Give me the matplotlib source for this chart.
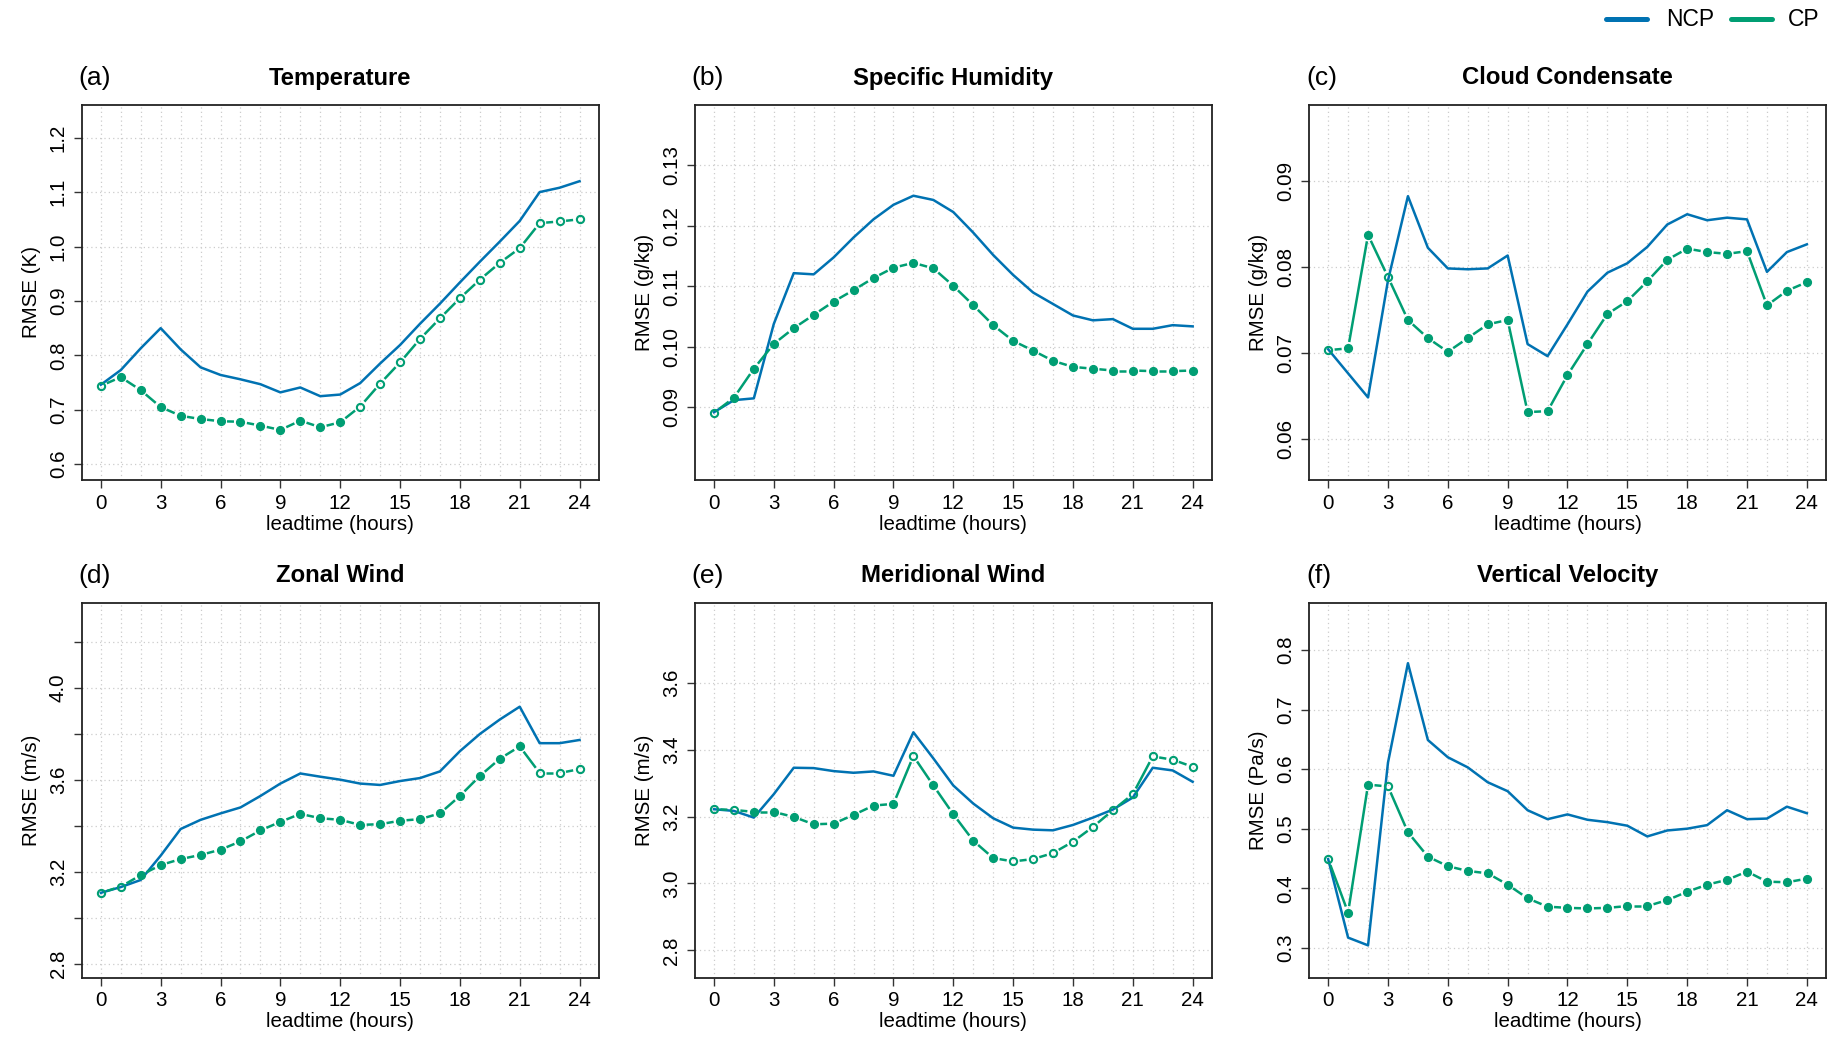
import numpy as np
import matplotlib
matplotlib.use('Agg')
import matplotlib.pyplot as plt
from matplotlib.lines import Line2D

plt.rcParams['font.family'] = ['Liberation Sans', 'DejaVu Sans']

BLUE = '#0072B2'
GREEN = '#009E73'

hours = np.arange(25)

# (a) Temperature
ncp_t = [0.746, 0.773, 0.813, 0.850, 0.811, 0.778, 0.764, 0.756, 0.747, 0.732, 0.741, 0.725, 0.728,
         0.749, 0.785, 0.819, 0.858, 0.895, 0.934, 0.972, 1.009, 1.047, 1.100, 1.108, 1.120]
cp_t = [0.744, 0.760, 0.736, 0.705, 0.689, 0.683, 0.679, 0.678, 0.671, 0.663, 0.680, 0.668, 0.677,
        0.706, 0.748, 0.787, 0.830, 0.868, 0.905, 0.939, 0.970, 0.997, 1.043, 1.046, 1.050]
open_t = [0, 13, 14, 15, 16, 17, 18, 19, 20, 21, 22, 23, 24]

# (b) Specific Humidity
ncp_q = [0.0892, 0.0912, 0.0915, 0.1038, 0.1122, 0.1120, 0.1148, 0.1181, 0.1211, 0.1235, 0.1250, 0.1243, 0.1223,
         0.1189, 0.1152, 0.1119, 0.1090, 0.1071, 0.1052, 0.1044, 0.1046, 0.1030, 0.1030, 0.1036, 0.1034]
cp_q = [0.0891, 0.0916, 0.0964, 0.1005, 0.1031, 0.1053, 0.1075, 0.1094, 0.1114, 0.1131, 0.1139, 0.1130, 0.1101,
        0.1069, 0.1036, 0.1010, 0.0994, 0.0977, 0.0967, 0.0964, 0.0961, 0.0961, 0.0960, 0.0960, 0.0961]
open_q = [0]

# (c) Cloud Condensate
ncp_c = [0.0704, 0.0676, 0.0648, 0.0784, 0.0882, 0.0822, 0.0798, 0.0797, 0.0798, 0.0813, 0.0710, 0.0696, 0.0733,
         0.0771, 0.0793, 0.0804, 0.0823, 0.0849, 0.0861, 0.0854, 0.0857, 0.0855, 0.0794, 0.0817, 0.0826]
cp_c = [0.0703, 0.0705, 0.0837, 0.0788, 0.0738, 0.0717, 0.0701, 0.0717, 0.0733, 0.0738, 0.0631, 0.0632, 0.0674,
        0.0710, 0.0745, 0.0760, 0.0783, 0.0808, 0.0821, 0.0817, 0.0815, 0.0818, 0.0755, 0.0772, 0.0782]
open_c = [0, 3]

# (d) Zonal Wind
ncp_u = [3.108, 3.133, 3.164, 3.270, 3.386, 3.426, 3.454, 3.480, 3.530, 3.584, 3.628, 3.614, 3.601,
         3.584, 3.578, 3.595, 3.608, 3.637, 3.725, 3.800, 3.863, 3.919, 3.760, 3.760, 3.774]
cp_u = [3.108, 3.135, 3.185, 3.229, 3.255, 3.273, 3.296, 3.332, 3.380, 3.417, 3.452, 3.433, 3.426,
        3.404, 3.407, 3.422, 3.429, 3.454, 3.530, 3.617, 3.692, 3.746, 3.630, 3.630, 3.647]
open_u = [0, 1, 22, 23, 24]

# (e) Meridional Wind
ncp_v = [3.222, 3.217, 3.197, 3.267, 3.346, 3.345, 3.336, 3.331, 3.335, 3.322, 3.452, 3.374, 3.293,
         3.239, 3.195, 3.167, 3.161, 3.159, 3.175, 3.197, 3.221, 3.257, 3.346, 3.338, 3.304]
cp_v = [3.222, 3.220, 3.214, 3.214, 3.199, 3.177, 3.179, 3.205, 3.233, 3.238, 3.381, 3.293, 3.207,
        3.128, 3.076, 3.066, 3.073, 3.091, 3.125, 3.169, 3.219, 3.267, 3.380, 3.370, 3.349]
open_v = [0, 1, 10, 15, 16, 17, 18, 19, 20, 21, 22, 23, 24]

# (f) Vertical Velocity
ncp_w = [0.449, 0.317, 0.304, 0.611, 0.778, 0.649, 0.620, 0.603, 0.578, 0.563, 0.531, 0.516, 0.524,
         0.515, 0.511, 0.505, 0.487, 0.497, 0.500, 0.506, 0.531, 0.516, 0.517, 0.537, 0.526]
cp_w = [0.449, 0.359, 0.574, 0.571, 0.494, 0.453, 0.437, 0.429, 0.425, 0.406, 0.383, 0.369, 0.367,
        0.366, 0.367, 0.370, 0.370, 0.380, 0.394, 0.406, 0.414, 0.428, 0.411, 0.410, 0.416]
open_w = [0, 3]

panels = [
    ('(a)', 'Temperature', 'RMSE (K)', ncp_t, cp_t, open_t, (0.571, 1.26),
     [0.6, 0.7, 0.8, 0.9, 1.0, 1.1, 1.2], ['0.6', '0.7', '0.8', '0.9', '1.0', '1.1', '1.2']),
    ('(b)', 'Specific Humidity', 'RMSE (g/kg)', ncp_q, cp_q, open_q, (0.078, 0.140),
     [0.09, 0.10, 0.11, 0.12, 0.13], ['0.09', '0.10', '0.11', '0.12', '0.13']),
    ('(c)', 'Cloud Condensate', 'RMSE (g/kg)', ncp_c, cp_c, open_c, (0.0552, 0.0988),
     [0.06, 0.07, 0.08, 0.09], ['0.06', '0.07', '0.08', '0.09']),
    ('(d)', 'Zonal Wind', 'RMSE (m/s)', ncp_u, cp_u, open_u, (2.739, 4.373),
     [2.8, 3.0, 3.2, 3.4, 3.6, 3.8, 4.0, 4.2], ['2.8', '', '3.2', '', '3.6', '', '4.0', '']),
    ('(e)', 'Meridional Wind', 'RMSE (m/s)', ncp_v, cp_v, open_v, (2.719, 3.840),
     [2.8, 3.0, 3.2, 3.4, 3.6], ['2.8', '3.0', '3.2', '3.4', '3.6']),
    ('(f)', 'Vertical Velocity', 'RMSE (Pa/s)', ncp_w, cp_w, open_w, (0.250, 0.880),
     [0.3, 0.4, 0.5, 0.6, 0.7, 0.8], ['0.3', '0.4', '0.5', '0.6', '0.7', '0.8']),
]

W, H = 1831, 1037
fig = plt.figure(figsize=(W / 100, H / 100), dpi=100)

lefts = [81.7, 694.8, 1309]
tops = [105, 602.5]
pw, ph = 517, 375


def gapped_line(ax, x, y, gap, **kw):
    # R type="b": line segments stop short of each point
    pts = ax.transData.transform(np.column_stack([x, y]))
    inv = ax.transData.inverted()
    for p0, p1 in zip(pts[:-1], pts[1:]):
        d = p1 - p0
        L = np.hypot(d[0], d[1])
        if L <= 2 * gap:
            continue
        u = d / L
        seg = inv.transform(np.array([p0 + u * gap, p1 - u * gap]))
        ax.plot(seg[:, 0], seg[:, 1], solid_capstyle='butt', **kw)


for i, (tag, title, ylab, ncp, cp, open_pts, ylim, yt, ytl) in enumerate(panels):
    left = lefts[i % 3]
    top = tops[i // 3]
    ax = fig.add_axes([left / W, 1 - (top + ph) / H, pw / W, ph / H])
    ax.set_xlim(-0.96, 24.96)
    ax.set_ylim(*ylim)

    for xv in hours:
        ax.axvline(xv, color='#cccccc', lw=0.9, ls=(0, (1, 2.5)), zorder=0)
    for yv in yt:
        ax.axhline(yv, color='#cccccc', lw=0.9, ls=(0, (1, 2.5)), zorder=0)

    ncp = np.array(ncp)
    cp = np.array(cp)
    ax.plot(hours, ncp, color=BLUE, lw=1.8, zorder=3)
    gapped_line(ax, hours, cp, 6.5, color=GREEN, lw=1.8, zorder=4)
    is_open = np.isin(hours, open_pts)
    ax.plot(hours[~is_open], cp[~is_open], 'o', ms=5.6, color=GREEN, mec=GREEN, zorder=5)
    ax.plot(hours[is_open], cp[is_open], 'o', ms=5.2, mfc='none', mec=GREEN, mew=1.5, zorder=5)

    ax.set_xticks(range(0, 25, 3))
    ax.set_yticks(yt)
    ax.set_yticklabels(ytl)
    ax.tick_params(direction='out', length=6, width=1, color='#333333', labelsize=14.8, pad=4)
    for lbl in ax.get_yticklabels():
        lbl.set_rotation(90)
        lbl.set_va('center')
    for sp in ax.spines.values():
        sp.set_color('#222222')
        sp.set_linewidth(1.3)

    ax.text(0.5, 1 + 27 / ph, title, transform=ax.transAxes, ha='center', va='center',
            fontsize=17.2, fontweight='bold')
    ax.text(-3 / pw, 1 + 27 / ph, tag, transform=ax.transAxes, ha='left', va='center', fontsize=19)
    ax.text(0.5, -44 / ph, 'leadtime (hours)', transform=ax.transAxes, ha='center', va='center',
            fontsize=14.8)
    ax.text(-50 / pw, 0.5, ylab, transform=ax.transAxes, rotation=90, ha='center', va='center',
            fontsize=14.8)

# legend in the top right corner
ly = 1 - 19 / H
fig.add_artist(Line2D([1606 / W, 1647 / W], [ly, ly], color=BLUE, lw=3.6, solid_capstyle='round'))
fig.text(1666 / W, ly, 'NCP', ha='left', va='center', fontsize=16.5)
fig.add_artist(Line2D([1731 / W, 1772 / W], [ly, ly], color=GREEN, lw=3.6, solid_capstyle='round'))
fig.text(1788 / W, ly, 'CP', ha='left', va='center', fontsize=16.5)

fig.savefig('out.png', dpi=100)
